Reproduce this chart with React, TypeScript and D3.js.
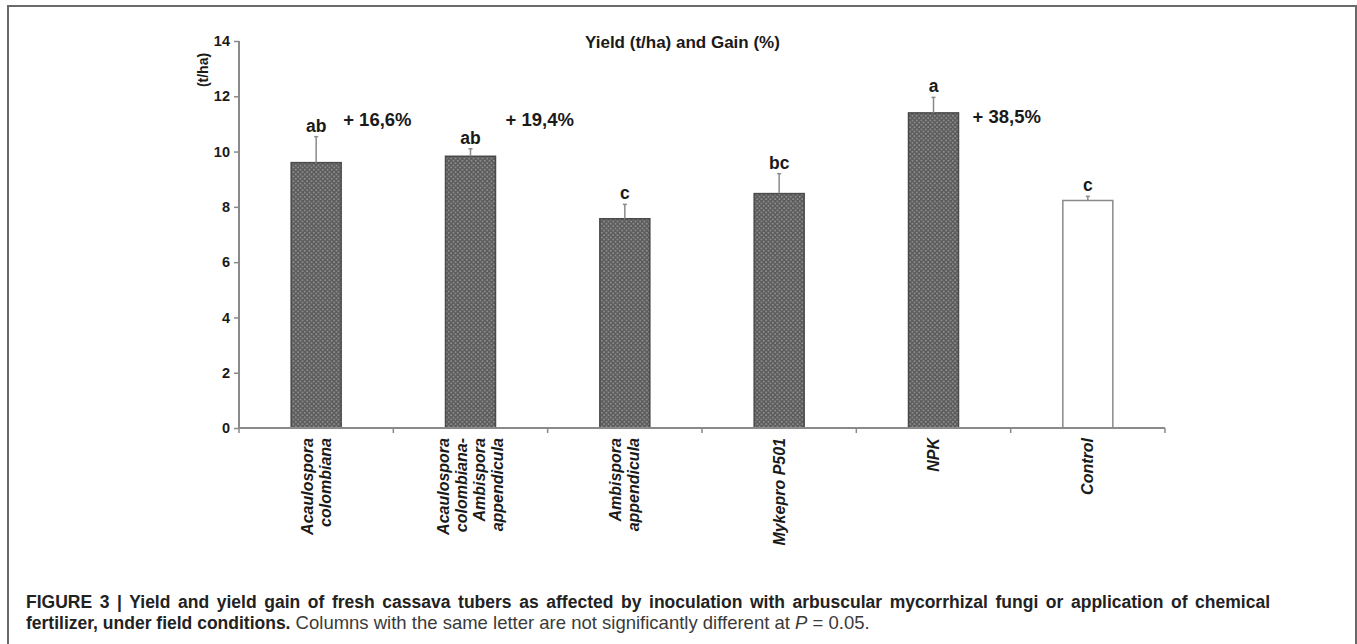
import React from "react";
import * as d3 from "d3";

const WIDTH = 1357;
const HEIGHT = 644;

const MARGIN_LEFT = 239;
const MARGIN_TOP = 41;
const PLOT_WIDTH = 926;
const PLOT_HEIGHT = 387;

const AXIS_COLOR = "#8a8a8a";
const TEXT_COLOR = "#1a1a1a";
const FONT = "Arial, 'Liberation Sans', Helvetica, sans-serif";

const treatments = [
    "Acaulospora colombiana",
    "Acaulospora colombiana-Ambispora appendicula",
    "Ambispora appendicula",
    "Mykepro P501",
    "NPK",
    "Control"
];
const treatmentLines = [
    ["Acaulospora", "colombiana"],
    ["Acaulospora", "colombiana-", "Ambispora", "appendicula"],
    ["Ambispora", "appendicula"],
    ["Mykepro P501"],
    ["NPK"],
    ["Control"]
];
const yieldValues = [9.6, 9.83, 7.57, 8.48, 11.4, 8.23];
const errorTops = [10.54, 10.1, 8.09, 9.2, 11.96, 8.38];
const letters = ["ab", "ab", "c", "bc", "a", "c"];
const gains = ["+ 16,6%", "+ 19,4%", null, null, "+ 38,5%", null];
const isControl = [false, false, false, false, false, true];
const yTicks = [0, 2, 4, 6, 8, 10, 12, 14];

// horizontal nudge of each gain label from the bar's right edge
const GAIN_DX = [2, 10, 14, 0, 14, 0];
const GAIN_LEVEL = [10.92, 10.92, 0, 0, 11.02, 0];

export default class App extends React.Component<{}, any> {

    ref = React.createRef<HTMLDivElement>();

    componentDidMount() {
        const svg = d3.select(this.ref.current).append("svg")
            .attr("width", WIDTH)
            .attr("height", HEIGHT)
            .style("position", "absolute")
            .style("left", "0px")
            .style("top", "0px")
            .style("background", "#fff");

        const defs = svg.append("defs");
        const pat = defs.append("pattern")
            .attr("id", "dots")
            .attr("patternUnits", "userSpaceOnUse")
            .attr("width", 4.5)
            .attr("height", 4.5);
        pat.append("rect").attr("width", 4.5).attr("height", 4.5).attr("fill", "#5c5c5c");
        pat.append("circle").attr("cx", 1.1).attr("cy", 1.1).attr("r", 0.8).attr("fill", "#a2a2a2");
        pat.append("circle").attr("cx", 3.35).attr("cy", 3.35).attr("r", 0.8).attr("fill", "#a2a2a2");

        // frame (open at the bottom)
        svg.append("path")
            .attr("d", "M8,644 V6 H1356 V644")
            .attr("fill", "none")
            .attr("stroke", "#6a6a6a")
            .attr("stroke-width", 2);

        const x = d3.scaleBand().domain(treatments).range([MARGIN_LEFT, MARGIN_LEFT + PLOT_WIDTH]).paddingInner(0.676).paddingOuter(0.338);
        const band = d3.scaleBand().domain(treatments).range([MARGIN_LEFT, MARGIN_LEFT + PLOT_WIDTH]);
        const y = d3.scaleLinear().domain([0, 14]).range([MARGIN_TOP + PLOT_HEIGHT, MARGIN_TOP]);

        const g = svg.append("g").attr("font-family", FONT);

        // title
        g.append("text")
            .attr("x", 585)
            .attr("y", 48)
            .attr("font-weight", "bold")
            .attr("font-size", 17)
            .attr("fill", TEXT_COLOR)
            .text("Yield (t/ha) and Gain (%)");

        // y axis label
        g.append("text")
            .attr("transform", "translate(208,70) rotate(-90)")
            .attr("text-anchor", "middle")
            .attr("font-weight", "bold")
            .attr("font-size", 14)
            .attr("fill", TEXT_COLOR)
            .text("(t/ha)");

        // y axis
        const yAxis = g.append("g")
            .attr("transform", `translate(${MARGIN_LEFT},0)`)
            .call(d3.axisLeft(y).tickValues(yTicks).tickSize(5).tickPadding(4).tickFormat(d3.format("d")));
        yAxis.select(".domain").attr("stroke", AXIS_COLOR).attr("stroke-width", 2).attr("d", `M0,${MARGIN_TOP}V${MARGIN_TOP + PLOT_HEIGHT}`);
        yAxis.selectAll(".tick line").attr("stroke", AXIS_COLOR).attr("stroke-width", 1.5);
        yAxis.selectAll(".tick text")
            .attr("fill", TEXT_COLOR)
            .attr("font-weight", "bold")
            .attr("font-size", 14.5)
            .attr("font-family", FONT);

        // bars
        g.append("g")
            .selectAll("rect")
            .data(treatments)
            .enter()
            .append("rect")
            .attr("x", d => x(d)!)
            .attr("y", (d, i) => y(yieldValues[i]))
            .attr("width", x.bandwidth())
            .attr("height", (d, i) => y(0) - y(yieldValues[i]))
            .attr("fill", (d, i) => isControl[i] ? "#fff" : "url(#dots)")
            .attr("stroke", (d, i) => isControl[i] ? AXIS_COLOR : "#4a4a4a")
            .attr("stroke-width", 1.5);

        // error bars (upper only)
        const err = g.append("g").attr("stroke", AXIS_COLOR).attr("stroke-width", 1.5);
        treatments.forEach((d, i) => {
            const cx = x(d)! + x.bandwidth() / 2;
            err.append("line")
                .attr("x1", cx).attr("x2", cx)
                .attr("y1", y(yieldValues[i])).attr("y2", y(errorTops[i]));
            err.append("line")
                .attr("x1", cx - 2).attr("x2", cx + 2)
                .attr("y1", y(errorTops[i])).attr("y2", y(errorTops[i]));
        });

        // significance letters
        g.append("g")
            .selectAll("text")
            .data(treatments)
            .enter()
            .append("text")
            .attr("x", d => x(d)! + x.bandwidth() / 2)
            .attr("y", (d, i) => y(errorTops[i]) - 5)
            .attr("text-anchor", "middle")
            .attr("font-weight", "bold")
            .attr("font-size", 17.5)
            .attr("fill", TEXT_COLOR)
            .text((d, i) => letters[i]);

        // gains
        g.append("g")
            .selectAll("text")
            .data(treatments.filter((d, i) => gains[i] !== null))
            .enter()
            .append("text")
            .attr("x", d => x(d)! + x.bandwidth() + GAIN_DX[treatments.indexOf(d)])
            .attr("y", d => y(GAIN_LEVEL[treatments.indexOf(d)]))
            .attr("font-weight", "bold")
            .attr("font-size", 18.5)
            .attr("fill", TEXT_COLOR)
            .text(d => gains[treatments.indexOf(d)]!);

        // x axis
        const xBase = y(0);
        g.append("line")
            .attr("x1", MARGIN_LEFT).attr("x2", MARGIN_LEFT + PLOT_WIDTH)
            .attr("y1", xBase).attr("y2", xBase)
            .attr("stroke", AXIS_COLOR).attr("stroke-width", 2);
        const bounds = treatments.map(d => band(d)!).concat([MARGIN_LEFT + PLOT_WIDTH]);
        g.append("g")
            .selectAll("line")
            .data(bounds)
            .enter()
            .append("line")
            .attr("x1", d => d).attr("x2", d => d)
            .attr("y1", xBase).attr("y2", xBase + 5)
            .attr("stroke", AXIS_COLOR).attr("stroke-width", 1.5);

        // category labels, rotated
        const LINE_GAP = 18;
        treatments.forEach((d, i) => {
            const cx = band(d)! + band.bandwidth() / 2;
            const lines = treatmentLines[i];
            const t = g.append("text")
                .attr("transform", `translate(${cx},${xBase + 10}) rotate(-90)`)
                .attr("text-anchor", "end")
                .attr("font-weight", "bold")
                .attr("font-style", "italic")
                .attr("font-size", 16)
                .attr("fill", TEXT_COLOR);
            lines.forEach((line, k) => {
                t.append("tspan")
                    .attr("x", 0)
                    .attr("y", (k - (lines.length - 1) / 2) * LINE_GAP + 5.5)
                    .text(line);
            });
        });

        // caption, first line justified to the column width
        const CAP_X = 26;
        const CAP_RIGHT = 1270;
        const cap = svg.append("g")
            .attr("font-family", FONT)
            .attr("font-size", 17.5)
            .attr("fill", "#222");
        const capText = "FIGURE 3 | Yield and yield gain of fresh cassava tubers as affected by inoculation with arbuscular mycorrhizal fungi or application of chemical";
        const line1 = cap.append("text")
            .attr("x", CAP_X)
            .attr("y", 608)
            .attr("font-weight", "bold")
            .text(capText);
        const natural = (line1.node() as SVGTextElement).getComputedTextLength();
        const spaces = capText.split(" ").length - 1;
        line1.attr("word-spacing", Math.max(0, (CAP_RIGHT - CAP_X - natural) / spaces));

        const line2 = cap.append("text").attr("x", CAP_X).attr("y", 629);
        line2.append("tspan").attr("font-weight", "bold").text("fertilizer, under field conditions.");
        const reg = line2.append("tspan").attr("font-size", 18.5).attr("fill", "#3a3a3a");
        reg.append("tspan").text(" Columns with the same letter are not significantly different at ");
        reg.append("tspan").attr("font-style", "italic").text("P");
        reg.append("tspan").text(" = 0.05.");
    }

    render() {
        return <div ref={this.ref}/>
    }
}
